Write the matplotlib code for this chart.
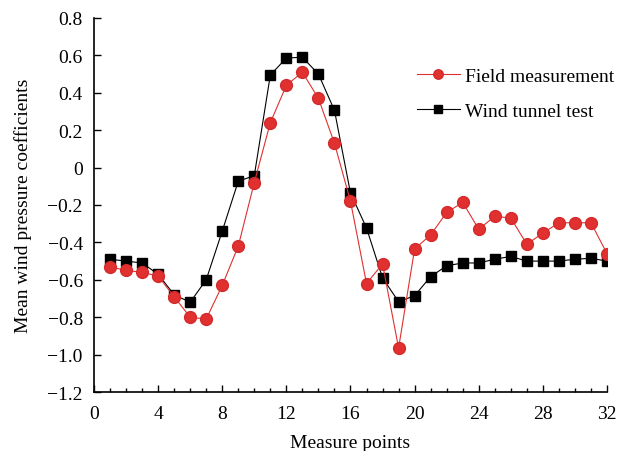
import matplotlib
matplotlib.use("Agg")
import matplotlib.pyplot as plt
from matplotlib.ticker import MultipleLocator

points = list(range(1, 33))
field = [-0.53, -0.55, -0.56, -0.58, -0.69, -0.80, -0.81, -0.63, -0.42, -0.08,
         0.24, 0.44, 0.51, 0.37, 0.13, -0.18, -0.62, -0.515, -0.965, -0.435,
         -0.36, -0.24, -0.186, -0.33, -0.26, -0.27, -0.41, -0.35, -0.295, -0.295,
         -0.295, -0.46]
tunnel = [-0.49, -0.50, -0.51, -0.57, -0.68, -0.72, -0.60, -0.34, -0.073, -0.043,
          0.495, 0.586, 0.59, 0.50, 0.306, -0.136, -0.323, -0.59, -0.717, -0.685,
          -0.583, -0.525, -0.51, -0.51, -0.49, -0.475, -0.50, -0.50, -0.50, -0.49,
          -0.485, -0.50]
yticks = [0.8, 0.6, 0.4, 0.2, 0, -0.2, -0.4, -0.6, -0.8, -1.0, -1.2]
ytick_labels = ['0.8', '0.6', '0.4', '0.2', '0', '\u22120.2', '\u22120.4', '\u22120.6',
                '\u22120.8', '\u22121.0', '\u22121.2']

plt.rcParams['font.family'] = ['Liberation Serif', 'DejaVu Serif']

fig = plt.figure(figsize=(6.17, 4.52), dpi=100)
ax = fig.add_axes([0.1523, 0.1305, 0.8315, 0.8275])

ax.plot(points, field, color='#E03030', lw=0.8, marker='o', markersize=8.5,
        markeredgecolor='#D42A2A', markerfacecolor='#E03030', label='Field measurement', zorder=3)
ax.plot(points, tunnel, color='black', lw=0.8, marker='s', markersize=7.5,
        label='Wind tunnel test', zorder=2)

ax.set_xlim(0, 32)
ax.set_ylim(-1.2, 0.8)
ax.xaxis.set_major_locator(MultipleLocator(4))
ax.xaxis.set_minor_locator(MultipleLocator(1))
ax.set_yticks(yticks)
ax.set_yticklabels(ytick_labels)
ax.tick_params(axis='both', which='major', direction='in', length=5, width=1, labelsize=14)
ax.tick_params(axis='x', which='minor', direction='in', length=3, width=1)
ax.tick_params(axis='y', which='major', pad=8)
ax.tick_params(axis='x', which='major', pad=9)
ax.spines['top'].set_visible(False)
ax.spines['right'].set_visible(False)
for s in ['left', 'bottom']:
    ax.spines[s].set_linewidth(1.2)

ax.set_xlabel('Measure points', fontsize=14, labelpad=9)
ax.set_ylabel('Mean wind pressure coefficients', fontsize=14, labelpad=11)

fig.legend(loc='upper left', bbox_to_anchor=(0.676, 0.849), frameon=False, fontsize=14,
           handlelength=2.2, handletextpad=0.25, labelspacing=0.9, borderpad=0,
           borderaxespad=0, markerscale=0.8)

fig.savefig('out.png', dpi=100)
